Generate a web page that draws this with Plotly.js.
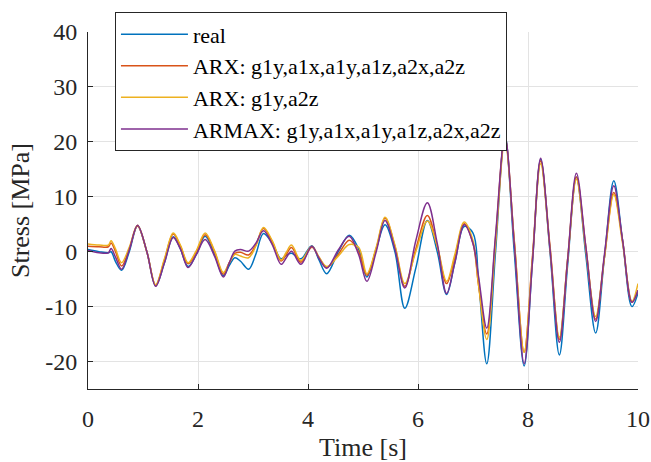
<!DOCTYPE html>
<html>
<head>
<meta charset="utf-8">
<script src="https://cdn.plot.ly/plotly-3.0.1.min.js"></script>
<style>
body { margin: 0; padding: 0; background: #fff; }
#fontprime { position: absolute; left: -10000px; top: 0; font-family: 'Liberation Serif'; font-size: 20px; color: #fff; }
</style>
</head>
<body>
<div id="fontprime" aria-hidden="true">Time</div>
<div id="chart" style="width:651px;height:462px;"></div>
<script>
// time grid [s]
var t = [0, 0.2, 0.37, 0.42, 0.5, 0.61, 0.75, 0.9, 1.07, 1.23, 1.39, 1.55, 1.68, 1.82, 1.97, 2.13, 2.3, 2.46, 2.57, 2.67, 2.77, 2.92, 3.05, 3.19, 3.35, 3.51, 3.6, 3.7, 3.87, 4.07, 4.2, 4.34, 4.55, 4.75, 4.92, 5.07, 5.24, 5.4, 5.58, 5.76, 5.96, 6.17, 6.35, 6.52, 6.67, 6.84, 7.0, 7.1, 7.25, 7.41, 7.58, 7.75, 7.93, 8.08, 8.23, 8.4, 8.57, 8.72, 8.88, 9.05, 9.23, 9.39, 9.56, 9.72, 9.89, 10];

var real = [0.4, 0.0, -0.2, 0.0, -1.8, -3.4, 0.0, 4.7, 0.0, -6.2, -2.0, 2.7, 0.5, -2.7, -0.5, 2.8, -0.5, -4.4, -2.5, -1.1, -1.7, -3.2, -0.5, 3.3, 1.5, -1.3, -0.7, -0.3, -1.3, 1.1, -1.5, -4.0, 0.0, 3.0, 0.5, -4.6, 0.5, 4.9, 0.0, -10.3, -3.0, 5.7, 0.0, -7.8, -2.0, 4.6, 3.4, -5.0, -20.4, 0.0, 21.2, 0.0, -20.8, -2.0, 16.8, 0.0, -18.8, -2.5, 13.6, -0.5, -14.8, -1.0, 12.9, 2.0, -10.0, -7.5];

var arx6 = [1.0, 0.9, 0.9, 1.6, 0.0, -2.6, 0.5, 4.7, 0.0, -6.1, -1.5, 3.2, 1.0, -2.2, 0.0, 3.1, 0.0, -4.1, -2.0, -0.3, -0.1, -0.6, 1.2, 4.2, 1.8, -1.7, -0.6, 0.75, -1.9, 0.8, -1.0, -2.9, -0.5, 2.1, 0.0, -4.3, 0.5, 6.1, 1.0, -6.3, 0.5, 6.6, 1.0, -5.8, -1.0, 5.1, 1.5, -6.0, -15.0, 2.5, 20.8, 2.0, -18.3, -1.0, 16.5, 1.0, -16.0, -1.5, 13.6, 1.0, -12.3, -1.0, 10.8, 2.0, -9.2, -7.0];

var arx2 = [1.4, 1.2, 1.2, 2.0, 0.5, -2.0, 0.8, 4.8, 0.0, -6.0, -1.3, 3.4, 1.2, -2.0, 0.2, 3.4, 0.2, -3.8, -2.0, -0.5, -0.8, -1.1, 1.0, 4.4, 2.0, -1.5, -0.2, 1.2, -1.6, 1.0, -1.0, -2.7, -0.8, 1.3, 0.8, -4.0, 0.8, 6.25, 1.2, -5.8, 0.0, 5.6, 1.0, -5.4, -0.5, 5.4, 2.0, -6.0, -16.0, 1.5, 20.2, 2.0, -18.3, -1.5, 16.0, 0.5, -15.6, -1.5, 13.2, 0.5, -11.8, -1.0, 10.4, 1.5, -9.0, -5.8];

var armax = [0.2, -0.2, -0.2, 0.6, -1.0, -3.2, 0.3, 4.8, 0.0, -6.3, -2.0, 2.6, 0.5, -2.9, -0.5, 2.2, -0.8, -4.6, -2.0, 0.1, 0.4, 0.1, 1.5, 3.8, 1.3, -2.3, -1.2, 0.1, -2.3, 1.0, -1.2, -3.0, 0.3, 2.8, -0.5, -5.4, 0.0, 5.7, 0.5, -6.6, 2.0, 8.9, 1.5, -7.6, -2.0, 4.9, 1.5, -4.5, -13.9, 3.0, 21.0, 1.5, -20.4, -2.0, 17.0, 0.5, -16.5, -1.5, 14.3, 1.0, -12.7, -0.5, 12.0, 2.0, -9.2, -7.0];

var names = ['real', 'ARX: g1y,a1x,a1y,a1z,a2x,a2z', 'ARX: g1y,a2z', 'ARMAX: g1y,a1x,a1y,a1z,a2x,a2z'];
var colors = ['#0072BD', '#D95319', '#EDB120', '#7E2F8E'];
var series = [real, arx6, arx2, armax];

var xTicks = [0, 2, 4, 6, 8, 10];
var yTicks = [-20, -10, 0, 10, 20, 30, 40];

var traces = series.map(function (s, i) {
  return {
    x: t, y: s, type: 'scatter', mode: 'lines', name: names[i],
    legendgroup: 'g' + i,
    line: {color: colors[i], width: 1.5, shape: 'spline', smoothing: 1}
  };
});

var FAM = 'Liberation Serif';
var layout = {
  width: 651, height: 462,
  margin: {l: 88, r: 13, t: 25, b: 73},
  paper_bgcolor: '#fff', plot_bgcolor: '#fff',
  font: {family: FAM, size: 20, color: '#262626'},
  showlegend: true,
  legend: {
    x: 0.049, y: 1.055, xanchor: 'left', yanchor: 'top',
    bgcolor: '#fff', bordercolor: '#262626', borderwidth: 1,
    font: {family: FAM, size: 22, color: '#000'},
    traceorder: 'grouped', tracegroupgap: 0, itemwidth: 67
  },
  xaxis: {
    range: [0, 10], tickvals: xTicks, ticktext: xTicks.map(String),
    showgrid: true, gridcolor: '#e3e3e3', gridwidth: 1,
    showline: true, linecolor: '#262626', linewidth: 1,
    ticks: 'inside', ticklen: 5, tickcolor: '#262626',
    ticklabelstandoff: 8, zeroline: false,
    tickfont: {family: FAM, size: 24, color: '#262626'},
    title: {text: 'Time [s]', font: {family: FAM, size: 26, color: '#262626'}, standoff: 8}
  },
  yaxis: {
    range: [-25, 40], tickvals: yTicks, ticktext: yTicks.map(String),
    showgrid: true, gridcolor: '#e3e3e3', gridwidth: 1,
    showline: true, linecolor: '#262626', linewidth: 1,
    ticks: 'inside', ticklen: 5, tickcolor: '#262626',
    ticklabelstandoff: 5, zeroline: false,
    tickfont: {family: FAM, size: 24, color: '#262626'},
    title: {text: 'Stress [MPa]', font: {family: FAM, size: 26, color: '#262626'}, standoff: 8}
  }
};

Plotly.newPlot('chart', traces, layout, {displayModeBar: false});
</script>
</body>
</html>
